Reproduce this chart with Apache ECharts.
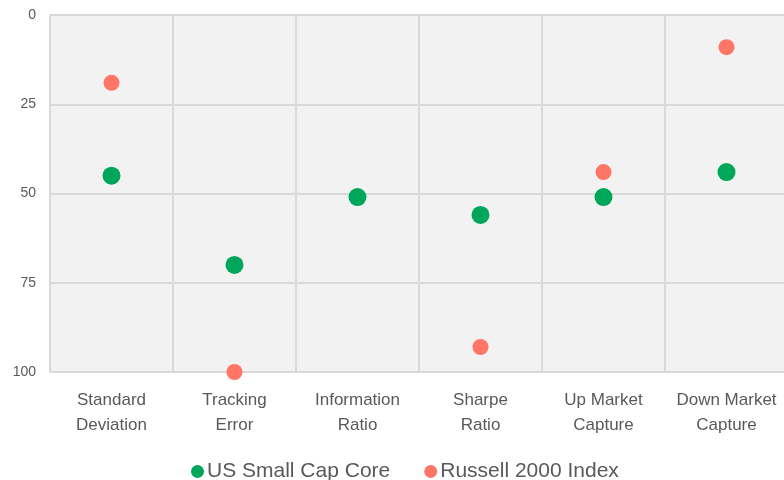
<!DOCTYPE html>
<html>
<head>
<meta charset="utf-8">
<script src="https://cdn.jsdelivr.net/npm/echarts@6/dist/echarts.min.js"></script>
<style>
  html, body { margin: 0; padding: 0; background: #fff; }
  #chart { width: 784px; height: 480px; }
</style>
</head>
<body>
<div id="chart"></div>
<script>
// categories and values
var categories = ['Standard\nDeviation', 'Tracking\nError', 'Information\nRatio', 'Sharpe\nRatio', 'Up Market\nCapture', 'Down Market\nCapture'];
var smallCapCore = [45, 70, 51, 56, 51, 44];
var russell2000 = [19, 100, 51, 93, 44, 9];
var yTicks = [0, 25, 50, 75, 100];

var chart = echarts.init(document.getElementById('chart'));
chart.setOption({
  animation: false,
  textStyle: { fontFamily: 'Liberation Sans, Arial, sans-serif' },
  grid: {
    left: 50, width: 738, top: 15, bottom: 108,
    outerBoundsMode: 'none',
    show: true,
    backgroundColor: '#f2f2f2',
    borderColor: '#d9d9d9',
    borderWidth: 1
  },
  legend: {
    bottom: -7,
    left: 186,
    itemGap: 34,
    itemWidth: 13,
    itemHeight: 13,
    textStyle: { fontSize: 21, color: '#595959', padding: [0, 0, 0, -2] },
    data: [
      { name: 'US Small Cap Core', icon: 'circle', itemStyle: { color: '#00a65a' } },
      { name: 'Russell 2000 Index', icon: 'circle', itemStyle: { color: '#ff7566' } }
    ]
  },
  xAxis: {
    type: 'category',
    data: categories,
    axisLine: { show: false },
    axisTick: { show: false },
    splitLine: { show: true, interval: 0, lineStyle: { color: '#d9d9d9', width: 2 } },
    axisLabel: { interval: 0, color: '#595959', fontSize: 17, lineHeight: 25, margin: 16 }
  },
  yAxis: {
    type: 'value',
    inverse: true,
    min: yTicks[0],
    max: yTicks[yTicks.length - 1],
    interval: 25,
    axisLine: { show: false },
    axisTick: { show: false },
    splitLine: { show: true, lineStyle: { color: '#d9d9d9', width: 2 } },
    axisLabel: { color: '#595959', fontSize: 14, margin: 14 }
  },
  series: [
    {
      name: 'Russell 2000 Index',
      type: 'scatter',
      data: russell2000,
      symbolSize: 16,
      z: 2,
      itemStyle: { color: '#ff7566', opacity: 1 }
    },
    {
      name: 'US Small Cap Core',
      type: 'scatter',
      data: smallCapCore,
      symbolSize: 18,
      z: 3,
      itemStyle: { color: '#00a65a', opacity: 1 }
    }
  ]
});
</script>
</body>
</html>
